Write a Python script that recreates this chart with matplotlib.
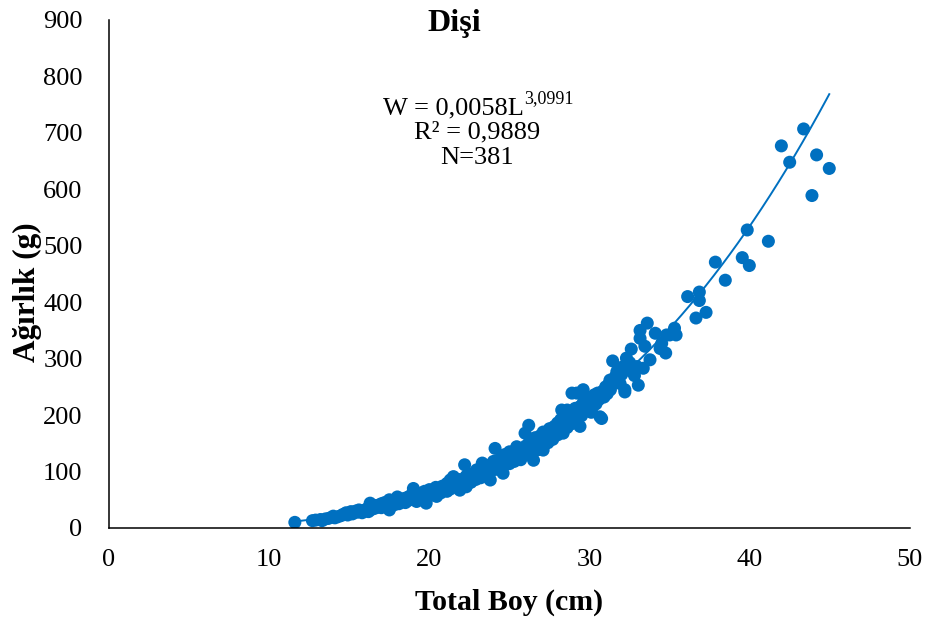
import numpy as np
import matplotlib.pyplot as plt

plt.rcParams['font.family'] = ['Liberation Serif', 'DejaVu Serif']

BLUE = '#0070C0'

# length-weight pairs (cm, g), grouped by length band
len_a = [11.6, 12.7, 12.9, 13.2, 13.3, 13.5, 13.7, 13.9, 14.0, 14.1, 14.3, 14.5,
         14.6, 14.8, 14.9, 15.0, 15.1, 15.2, 15.4, 15.5, 15.6, 15.8, 15.9, 16.0]
wt_a = [10, 13, 14, 15, 13, 16, 17, 19, 21, 18, 20, 22,
        24, 27, 23, 26, 29, 25, 30, 28, 32, 27, 31, 30]

len_b = [16.1, 16.2, 16.3, 16.3, 16.4, 16.5, 16.6, 16.7, 16.8, 16.9, 17.0, 17.0,
         17.1, 17.2, 17.3, 17.4, 17.5, 17.5, 17.6, 17.7, 17.8, 17.9, 18.0, 18.0,
         18.1, 18.2, 18.3, 18.4, 18.5, 18.6, 18.7, 18.8, 18.9, 19.0, 19.0, 19.1,
         19.2, 19.3, 19.4, 19.5, 19.6, 19.7, 19.8, 19.8, 19.9, 20.0, 20.0]
wt_b = [34, 29, 44, 36, 33, 38, 35, 40, 37, 41, 36, 43,
        39, 45, 38, 42, 50, 32, 44, 47, 41, 49, 55, 46,
        43, 50, 47, 52, 45, 54, 49, 57, 51, 70, 55, 60,
        47, 58, 53, 62, 56, 65, 44, 59, 63, 57, 68]

len_c = [20.1, 20.2, 20.3, 20.4, 20.45, 20.5, 20.6, 20.7, 20.8, 20.9, 21.0, 21.1,
         21.1, 21.2, 21.3, 21.3, 21.4, 21.5, 21.5, 21.6, 21.7, 21.8, 21.9, 21.9,
         22.0, 22.1, 22.2, 22.2, 22.3, 22.3, 22.4, 22.5, 22.6, 22.7, 22.8, 22.9,
         22.95, 23.0, 23.1, 23.2, 23.3, 23.3, 23.4, 23.5, 23.6, 23.7, 23.8, 23.8,
         23.9, 24.0, 24.0, 24.1, 24.1]
wt_c = [61, 66, 59, 72, 56, 64, 70, 62, 74, 67, 71, 79,
        65, 76, 85, 69, 73, 91, 78, 82, 75, 86, 67, 80,
        84, 77, 112, 88, 73, 92, 85, 95, 81, 90, 98, 86,
        103, 93, 100, 89, 115, 96, 104, 92, 108, 99, 85, 112,
        102, 118, 106, 141, 110]

len_d = [24.2, 24.3, 24.4, 24.5, 24.6, 24.6, 24.7, 24.8, 24.9, 25.0, 25.0, 25.1,
         25.2, 25.3, 25.4, 25.45, 25.5, 25.6, 25.7, 25.8, 25.9, 25.97, 26.0, 26.1,
         26.2, 26.2, 26.3, 26.4, 26.5, 26.5, 26.6, 26.7, 26.8, 26.9, 27.0, 27.1,
         27.1, 27.2, 27.3, 27.4, 27.5, 27.5, 27.6, 27.7, 27.8, 27.9, 28.0, 28.0,
         28.1, 28.2, 28.26, 28.35, 28.4]
wt_d = [104, 120, 112, 125, 97, 116, 130, 119, 127, 114, 135, 122,
        131, 118, 138, 144, 126, 133, 121, 140, 129, 168, 145, 136,
        182, 150, 141, 156, 120, 147, 160, 152, 139, 163, 155, 138,
        170, 158, 166, 151, 162, 176, 168, 157, 180, 172, 165, 186,
        176, 192, 209, 168, 183]

len_e = [28.5, 28.6, 28.6, 28.7, 28.8, 28.9, 28.9, 29.0, 29.1, 29.2, 29.2, 29.3,
         29.4, 29.4, 29.5, 29.6, 29.6, 29.7, 29.8, 29.9, 30.0, 30.1, 30.2, 30.3,
         30.4, 30.5, 30.6, 30.65, 30.75, 30.8, 30.9, 31.0, 31.1, 31.2, 31.27, 31.3,
         31.44, 31.5, 31.6, 31.7, 31.8, 31.9, 32.0, 32.1, 32.2, 32.2, 32.3, 32.4,
         32.5, 32.6, 32.7, 32.8, 32.95, 33.04, 33.15, 33.15, 33.35, 33.45, 33.6, 33.77,
         34.1, 34.4, 34.5, 34.75, 34.8, 35.0, 35.3, 35.4]
wt_e = [198, 209, 178, 190, 203, 239, 185, 196, 212, 239, 188, 205,
        180, 215, 199, 245, 222, 208, 230, 214, 226, 205, 215, 236,
        220, 239, 228, 197, 194, 242, 232, 250, 238, 255, 262, 245,
        296, 257, 268, 277, 262, 256, 272, 286, 245, 241, 301, 280,
        293, 317, 284, 270, 286, 253, 350, 336, 283, 322, 363, 298,
        345, 318, 327, 310, 342, 342, 354, 342]

len_f = [36.12, 36.85, 36.85, 37.27, 36.64, 37.85, 38.47, 39.53, 39.97, 39.84,
         41.16, 41.97, 42.49, 43.36, 43.88, 44.17, 44.96]
wt_f = [410, 418, 403, 382, 372, 471, 439, 479, 465, 528,
        508, 677, 648, 707, 589, 661, 637]

length = np.array(len_a + len_b + len_c + len_d + len_e + len_f)
weight = np.array(wt_a + wt_b + wt_c + wt_d + wt_e + wt_f)

# power fit W = a * L^b
a_coef = 0.0058
b_coef = 3.0991

fig = plt.figure(figsize=(9.33, 6.21), dpi=100)
ax = fig.add_axes([109 / 933, 1 - 528 / 621, 801 / 933, 508 / 621])

ax.scatter(length, weight, s=88, color=BLUE, edgecolors='none', zorder=2)
xs = np.linspace(length.min(), length.max(), 200)
ax.plot(xs, a_coef * xs ** b_coef, color=BLUE, lw=1.4, zorder=3)

ax.set_xlim(0, 50)
ax.set_ylim(0, 900)
ax.set_xticks(np.arange(0, 51, 10))
ax.set_yticks(np.arange(0, 901, 100))
ax.tick_params(axis='both', length=0, labelsize=19)
ax.tick_params(axis='y', pad=19)
ax.tick_params(axis='x', pad=15)
for side in ['top', 'right']:
    ax.spines[side].set_visible(False)
for side in ['left', 'bottom']:
    ax.spines[side].set_linewidth(1.1)
    ax.spines[side].set_color('black')

# equation block
eq = ax.text(17.1, 744, 'W = 0,0058L', fontsize=19, ha='left', va='center')
ax.annotate('3,0991', xy=(1, 0.55), xycoords=eq, fontsize=13,
            ha='left', va='bottom')
ax.text(22.97, 700, 'R² = 0,9889', fontsize=19, ha='center', va='center')
ax.text(22.97, 656, 'N=381', fontsize=19, ha='center', va='center')

fig.text(454 / 933, 1 - 23 / 621, 'Dişi', fontsize=23, fontweight='bold',
         ha='center', va='center')
fig.text(509.5 / 933, 1 - 602 / 621, 'Total Boy (cm)', fontsize=21.5,
         fontweight='bold', ha='center', va='center')
fig.text(27 / 933, 1 - 292 / 621, 'Ağırlık (g)', fontsize=22.5,
         fontweight='bold', ha='center', va='center', rotation=90)

fig.savefig('out.png', dpi=100)
